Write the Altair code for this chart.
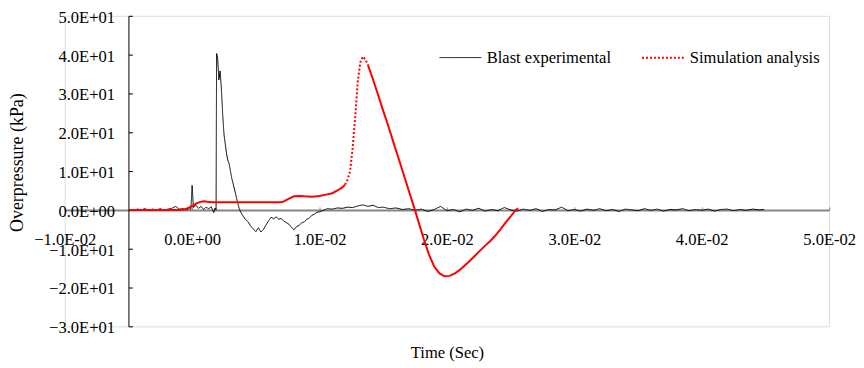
import altair as alt
import pandas as pd

# ---------------- data ----------------
series_names = ["Blast experimental", "Simulation analysis"]

exp_time = [
    -0.0049, -0.0046, -0.0043, -0.0040, -0.0037, -0.0034, -0.0031, -0.0028, -0.0025,
    -0.0022, -0.0019, -0.0016, -0.0013, -0.0010, -0.0007, -0.0004, -0.0002, -0.0001,
    0.0000, 0.0001, 0.0003, 0.0005, 0.0007, 0.0009, 0.0011, 0.0013, 0.0015, 0.0017,
    0.0018, 0.00188, 0.00192, 0.0020, 0.0021, 0.0022, 0.0023, 0.0024, 0.0025, 0.0026,
    0.0027, 0.0028, 0.0029, 0.0030, 0.0031, 0.0032, 0.0033, 0.0034, 0.0035, 0.0036,
    0.0037, 0.0038, 0.0040, 0.0042, 0.0044, 0.0046, 0.0048, 0.0050, 0.0052, 0.0054,
    0.0056, 0.0058, 0.0060, 0.0062, 0.0064, 0.0066, 0.0068, 0.0070, 0.0072, 0.0074,
    0.0076, 0.0078, 0.0080, 0.0082, 0.0084, 0.0086, 0.0088, 0.0090, 0.0092, 0.0094,
    0.0096, 0.0098, 0.0100, 0.0103, 0.0106, 0.0110, 0.0114, 0.0118, 0.0122, 0.0126,
    0.0130, 0.0134, 0.0138, 0.0142, 0.0146, 0.0150, 0.0155, 0.0160, 0.0165, 0.0170,
    0.0175, 0.0180, 0.0185, 0.0190, 0.0195, 0.0200, 0.0205, 0.0210, 0.0215, 0.0220,
    0.0225, 0.0230, 0.0235, 0.0240, 0.0245, 0.0250, 0.0255, 0.0260, 0.0265, 0.0270,
    0.0275, 0.0280, 0.0285, 0.0290, 0.0295, 0.0300, 0.0305, 0.0310, 0.0315, 0.0320,
    0.0325, 0.0330, 0.0335, 0.0340, 0.0345, 0.0350, 0.0355, 0.0360, 0.0365, 0.0370,
    0.0375, 0.0380, 0.0385, 0.0390, 0.0395, 0.0400, 0.0405, 0.0410, 0.0415, 0.0420,
    0.0425, 0.0430, 0.0435, 0.0440, 0.0445, 0.0449,
]
exp_kpa = [
    0.1, -0.2, 0.2, 0.0, 0.3, -0.1, 0.2, 0.0, 0.3,
    -0.1, 0.2, 0.4, 0.9, 0.2, 0.3, 0.0, 0.4, 0.1,
    6.3, 0.6, 1.2, 0.4, 0.9, 0.1, 0.7, 0.3, 0.8, -0.7,
    0.5, 0.0, 40.3, 39.2, 33.5, 35.8, 31.0, 24.5, 19.5, 17.0,
    14.5, 12.8, 11.9, 10.2, 8.3, 7.0, 5.6, 4.3, 2.8, 1.5,
    0.3, -0.5, -1.6, -2.5, -3.1, -4.2, -4.9, -5.6, -4.6, -5.7,
    -5.0, -3.9, -2.8, -1.9, -2.3, -1.8, -2.4, -2.2, -2.9, -3.3,
    -3.7, -4.5, -5.1, -4.3, -4.0, -3.3, -3.1, -2.4, -2.1, -1.4,
    -1.1, -0.6, -0.5, -0.1, 0.3, 0.2, 0.5, 0.4, 0.7, 0.6,
    1.0, 1.3, 0.9, 1.2, 0.6, 0.7, 0.3, 0.5, 0.1, 0.3,
    -0.1, 0.2, -0.4, 0.1, 0.9, -0.2, 0.1, -0.5, 0.2, -0.1,
    0.4, -0.3, 0.1, -0.2, 0.6, 0.0, -0.3, 0.2, -0.1, 0.3,
    -0.4, 0.1, 0.0, 0.7, -0.2, 0.1, -0.3, 0.2, -0.1, 0.3,
    -0.2, 0.1, -0.4, 0.2, 0.0, -0.2, 0.3, -0.1, 0.2, -0.3,
    0.1, 0.0, 0.3, -0.2, 0.1, -0.1, 0.2, -0.3, 0.1, 0.2,
    -0.2, 0.1, -0.1, 0.2, 0.0, 0.1,
]

sim_time = [
    -0.0049, -0.0030, -0.0010, -0.0006, -0.0003, 0.0000, 0.0003, 0.0006, 0.0009,
    0.0012, 0.0016, 0.0030, 0.0050, 0.0070, 0.0072, 0.0076, 0.0080, 0.0084, 0.0088,
    0.0094, 0.0100, 0.0106, 0.0110, 0.0114, 0.0118, 0.0120, 0.0122, 0.0124, 0.0126,
    0.0128, 0.0130, 0.0132, 0.0134, 0.0136, 0.0138, 0.0142, 0.0146, 0.0150, 0.0154,
    0.0158, 0.0162, 0.0166, 0.0170, 0.0174, 0.0178, 0.0182, 0.0186, 0.0190, 0.0194,
    0.0198, 0.0202, 0.0206, 0.0210, 0.0214, 0.0218, 0.0222, 0.0226, 0.0230, 0.0234,
    0.0238, 0.0242, 0.0246, 0.0250, 0.0254, 0.0256,
]
sim_kpa = [
    0.0, 0.0, 0.0, 0.1, 0.5, 1.0, 1.6, 2.0, 2.2,
    2.1, 2.0, 2.0, 2.0, 2.0, 2.2, 2.9, 3.5, 3.6, 3.5,
    3.4, 3.6, 4.0, 4.3, 5.0, 5.8, 6.5, 7.8, 10.0, 16.0,
    24.0, 33.0, 38.0, 39.5, 38.8, 37.3, 33.6, 29.6, 25.5, 21.6,
    17.4, 13.3, 9.2, 5.0, 0.9, -3.4, -7.7, -11.6, -14.6, -16.3,
    -17.1, -17.0, -16.4, -15.5, -14.3, -13.1, -11.8, -10.5, -9.2, -8.0,
    -6.6, -5.0, -3.3, -1.7, 0.0, 0.4,
]
# the part of the simulated curve drawn with visible dots (steep segments)
dotted_from, dotted_to = 0.0120, 0.0138

x_ticks = [-0.01, 0.0, 0.01, 0.02, 0.03, 0.04, 0.05]
y_ticks = [-30, -20, -10, 0, 10, 20, 30, 40, 50]
x_domain = [-0.01, 0.05]
y_domain = [-30, 50]
y_axis_at_time = -0.005   # where the vertical axis crosses
x_axis_at_kpa = 0.0       # where the horizontal axis crosses

# ---------------- tables ----------------
df_exp = pd.DataFrame({"t": exp_time, "p": exp_kpa, "series": series_names[0]})

rows = []
for t, p in zip(sim_time, sim_kpa):
    if t <= dotted_from:
        rows.append((t, p, "a"))
    if dotted_from <= t <= dotted_to:
        rows.append((t, p, "b"))
    if t >= dotted_to:
        rows.append((t, p, "c"))
df_sim = pd.DataFrame(rows, columns=["t", "p", "seg"])
df_sim["series"] = series_names[1]

# ---------------- layout ----------------
W, H = 768, 312
FONT = "Liberation Serif"
FS = 16.6
GRAY = "#868686"

y_off = -(y_axis_at_time - x_domain[0]) / (x_domain[1] - x_domain[0]) * W
x_off = -(x_axis_at_kpa - y_domain[0]) / (y_domain[1] - y_domain[0]) * H
x_top_off = -(y_domain[1] - x_axis_at_kpa) / (y_domain[1] - y_domain[0]) * H
y_right_off = -W - y_off

sci = ("datum.value == 0 ? '0.0E+00' : "
       "format(datum.value / pow(10, floor(log(abs(datum.value)) / LN10 + 1e-9)), '.1f') + 'E' + "
       "(floor(log(abs(datum.value)) / LN10 + 1e-9) < 0 ? '-' : '+') + "
       "pad(toString(abs(floor(log(abs(datum.value)) / LN10 + 1e-9))), 2, '0', 'left')")

xs = alt.Scale(domain=x_domain, nice=False, zero=False)
ys = alt.Scale(domain=y_domain, nice=False, zero=False)

legend = alt.Legend(
    title=None, orient="none", legendX=376, legendY=20, direction="horizontal",
    symbolType="stroke", symbolSize=1764, labelFont=FONT, labelFontSize=FS,
    labelColor="black", labelOffset=5, columnPadding=27, padding=0,
)

exp_line = alt.Chart(df_exp).mark_line().encode(
    x=alt.X("t:Q", scale=xs, axis=alt.Axis(
        orient="bottom", offset=x_off, values=x_ticks, labelExpr=sci,
        domainColor=GRAY, domainWidth=2, ticks=False, tickSize=0, grid=False,
        labelPadding=22, labelFont=FONT, labelFontSize=FS, labelColor="black",
        labelFlush=False, labelOverlap=False,
        title="Time (Sec)", titleFont=FONT, titleFontSize=FS, titleFontWeight="normal",
        titleColor="black", titleBaseline="middle", titleY=143)),
    y=alt.Y("p:Q", scale=ys, axis=alt.Axis(
        orient="left", offset=y_off, values=y_ticks, labelExpr=sci,
        domainColor="black", domainWidth=1, ticks=False, tickSize=0, grid=False,
        labelPadding=14, labelFont=FONT, labelFontSize=FS, labelColor="black",
        labelFlush=False, labelOverlap=False, labelBaseline="middle", labelOffset=1.5,
        title="Overpressure (kPa)", titleFont=FONT, titleFontSize=18,
        titleFontWeight="normal", titleColor="black", titleAngle=270,
        titleBaseline="middle", titleAlign="center", titleX=-111, titleY=147)),
    color=alt.Color("series:N", scale=alt.Scale(domain=series_names, range=["black", "red"]),
                    legend=legend),
    strokeDash=alt.StrokeDash("series:N", scale=alt.Scale(domain=series_names,
                                                          range=[[1, 0], [2, 2]]),
                              legend=legend),
    strokeWidth=alt.StrokeWidth("series:N", scale=alt.Scale(domain=series_names, range=[1, 2]),
                                legend=legend),
)

sim_solid = alt.Chart(df_sim).transform_filter(alt.datum.seg != "b").mark_line(
    color="red", strokeWidth=2).encode(
    x=alt.X("t:Q", scale=xs, axis=None),
    y=alt.Y("p:Q", scale=ys, axis=None),
    detail="seg:N",
)

sim_dot = alt.Chart(df_sim).transform_filter(alt.datum.seg == "b").mark_line(
    color="red", strokeWidth=2, strokeDash=[2, 2]).encode(
    x=alt.X("t:Q", scale=xs, axis=None),
    y=alt.Y("p:Q", scale=ys, axis=None),
)

# tick marks of both axes point into the plot: carried by an invisible layer
tick_layer = alt.Chart(df_exp).mark_line(strokeOpacity=0).encode(
    x=alt.X("t:Q", scale=xs, axis=alt.Axis(
        orient="top", offset=x_top_off, values=x_ticks, labels=False, domain=False,
        ticks=True, tickSize=3, tickColor=GRAY, grid=False, title=None)),
    y=alt.Y("p:Q", scale=ys, axis=alt.Axis(
        orient="right", offset=y_right_off, values=y_ticks, labels=False, domain=False,
        ticks=True, tickSize=4, tickColor="black", grid=False, title=None)),
)

chart = alt.layer(exp_line, sim_solid, sim_dot, tick_layer).resolve_axis(
    x="independent", y="independent"
).properties(
    width=W, height=H,
    autosize=alt.AutoSizeParams(type="none"),
    padding={"left": 57, "top": 7, "right": 27, "bottom": 40},
    background="white",
).configure_view(stroke=None).configure(font=FONT)

chart.save("out.html", embed_options={"renderer": "svg", "actions": False})
